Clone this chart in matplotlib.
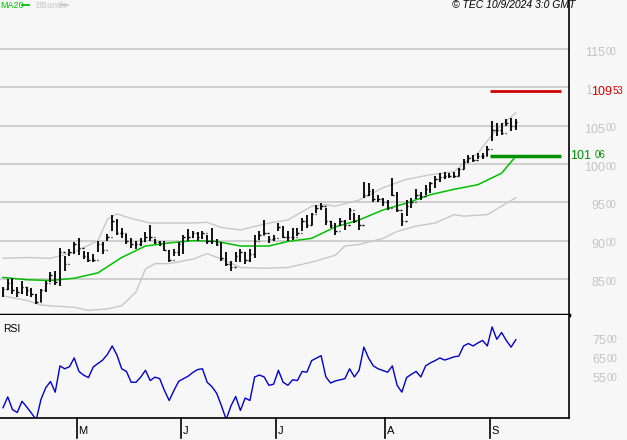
import matplotlib
matplotlib.use("Agg")
import matplotlib.pyplot as plt
from matplotlib import font_manager
from matplotlib.transforms import blended_transform_factory as btf
import numpy as np

# ---------------- data ----------------
months = ["M", "J", "J", "A", "S"]
month_start_idx = [16, 38, 58, 81, 103]

highs = [83.9,85,85.1,83.9,84.7,83.9,83.8,83.0,83.7,84.8,85.9,86.1,89.0,88.0,88.9,89.8,90.3,88.7,88.5,88.3,
         90,89.8,90.9,93.3,92.8,91.7,90.9,90.3,90,90.4,91.1,92,90.2,90,90,88.8,88.9,89.8,90.7,91.5,
         91.3,91.1,91.3,90.7,91.7,90.2,89.8,88.5,87.4,88.5,88.9,88.5,88.9,90.7,91.2,92.7,90.6,90.8,92.3,91.9,
         91.2,91.7,91.7,93,93.4,93.6,94.7,94.9,94.3,92.5,92.3,93,92.7,94.3,93.6,93.4,97.7,97.5,96.7,96,
         95.6,95.3,98.2,96.4,93.6,95.3,95.6,96.7,96.4,97.3,97.7,98.4,98.8,99,98.8,99,99.5,100.6,101.2,101.2,
         101.4,101.4,102.3,105.6,105.3,105.3,105.9,106,105.9]
lows = [82.7,83.5,83.0,82.7,83.0,82.8,82.6,81.8,82.0,83.3,84.6,84.2,84.1,86.1,88.0,88.3,88.1,87.6,87.2,87.2,
        88.5,88.3,89.9,91.3,90.7,90.4,89.6,89.1,88.9,89.3,89.8,90,89.6,89.3,88.6,87.2,88.0,88.0,88.3,90,
        90.4,90,90.2,89.6,89.6,89.3,87.4,86.7,86.1,87.2,87.2,87.0,87.2,87.8,90.1,90.8,89.7,89.9,91.2,90.3,
        89.9,90.1,90.6,91.2,91.7,92.1,93.6,94,92.1,91.7,90.8,91.9,91.4,92.7,92.3,91.4,95.6,95.8,95.1,95.1,
        94.5,94,95.8,93.8,91.9,93.2,94.3,95.4,95.3,96,96.2,96.9,97.7,98,98.2,98.2,98.4,99.3,100.1,100.3,
        100.6,100.6,101,103,103.6,103.8,104.9,104.3,104.5]
closes = [83.7,84.5,83.5,83.3,84.0,83.5,83.0,82.0,83.5,84.5,85.5,84.6,88.5,87,88.5,89.5,89,88,87.5,87.5,
          89.5,88.8,90.5,92.5,91,91,90,89.5,89.5,90,90.5,90.5,89.8,89.5,88.8,87.5,88.5,89.5,90.5,90.5,
          91,90.5,91,90,90,89.5,87.8,87,86.5,88,88.5,87.5,88.3,90,90.8,91,90.2,90.3,91.8,90.5,
          90.5,90.5,91,92.5,92,93.5,94.3,94.5,92.5,92,91.2,92.5,92,94,92.5,92,96,96.5,95.5,95.5,
          95,94.3,96,94,92.5,94.5,95,96,95.8,96.8,97.5,98,98.3,98.5,98.5,98.5,99.3,100.3,100.8,100.5,
          101,101,102,104.5,104.5,104,105.3,105,105.5]
opens = [83.2] + closes[:-1]

ma_idx = [0,5,10,15,20,25,30,35,40,45,50,56,60,65,70,75,80,85,90,95,100,105,108]
ma_val = [85.2,84.9,84.8,85.1,85.8,87.8,89.3,89.7,90,89.9,89.3,89.3,89.9,90.3,91.8,92.7,94,94.9,96,96.7,97.3,98.8,101]
up_idx = [0,5,10,15,20,22,24,27,31,35,40,43,46,50,56,60,65,68,70,75,80,85,90,95,98,100,103,105,108]
up_val = [87.7,87.8,87.7,88.5,90,92.8,93.5,92.9,92.3,92.3,92.3,92.4,91.7,91.4,92.3,92.7,94.5,94.7,94.5,95.3,96.9,98,98.6,99,100.6,101.4,103.8,105.1,106.7]
lo_idx = [0,5,8,10,15,18,22,25,28,30,32,35,40,43,46,50,55,60,65,70,72,75,80,83,87,91,95,97,102,105,108]
lo_val = [82.8,82.2,81.6,81.5,81.3,80.9,81.1,81.5,83.3,86.3,87,87,87.6,88.3,87.6,86.5,86.4,86.5,87.2,88.1,89.3,89.5,90.3,91.2,91.9,92.3,93.4,93.2,93.4,94.5,95.6]

rsi = [39.9,45.6,38.9,37.4,43.3,40.3,37,33.6,44.3,50.4,53.7,48.1,61.9,60.4,61.5,66.1,59,57,55.8,61.3,
       63.2,65,68,72.4,67.6,60.4,59,53.3,53.3,56,59.6,54.2,56,55.2,49,43.7,49,53.8,55.2,56.5,
       58.5,60,60.4,53.3,51,47.5,41,33.7,40.8,45.8,38.5,45,43.7,56.1,57.1,56.1,51.7,52.3,59.6,53.3,
       51.7,54.6,54.2,59,58.6,64.7,66,67.3,56.1,52.9,54,54.6,55.2,60.4,56.1,59.6,71.8,66,61.9,60.4,
       59.5,58.6,61.9,51.7,48.1,55.8,57.5,59,56.1,61.9,63.5,64.7,66.1,65,65.8,66.7,67.1,72.4,73.7,72.4,
       74,75.3,72.4,82.4,75.9,79.5,75.3,71.8,75.7]

price_ticks = [85, 90, 95, 100, 105, 110, 115]
rsi_ticks = [55, 65, 75]
resistance = 109.53
support = 101.06

# ---------------- drawing ----------------
names = {f.name for f in font_manager.fontManager.ttflist}
FONT = "Liberation Sans Narrow" if "Liberation Sans Narrow" in names else "Liberation Sans"
plt.rcParams["font.family"] = FONT

BG = "#f7f7f7"
GRID = "#c8c8c8"
LBL = "#c4c4c4"
fig = plt.figure(figsize=(6.27, 4.4), dpi=100, facecolor=BG)
W, H = 627, 440
ax = fig.add_axes([0, (H-315)/H, 569/W, 315/H], facecolor=BG)
ax2 = fig.add_axes([0, (H-418)/H, 569/W, 103/H], facecolor=BG)

xl = (-0.63, 119.2)
n = len(closes)
x = np.arange(n)
ax.set_xlim(*xl); ax.set_ylim(80.3, 121.4)
for t in price_ticks:
    ax.axhline(t, color=GRID, lw=1.2, zorder=0)
ax.plot(up_idx, up_val, color=GRID, lw=1)
ax.plot(lo_idx, lo_val, color=GRID, lw=1)
ax.plot(ma_idx, ma_val, color="#00c000", lw=1.1)
ax.vlines(x, lows, highs, color="black", lw=1.3)
ax.hlines(opens, x-0.3, x, color="black", lw=1)
ax.hlines(closes, x, x+0.3, color="black", lw=1)
ax.hlines(resistance, 102.5, 117.6, color="#d00000", lw=2)
ax.hlines(support, 102.5, 117.6, color="#009000", lw=2.5)

for s in ["top", "left"]:
    ax.spines[s].set_visible(False)
ax.spines["right"].set_linewidth(1.2)
ax.spines["bottom"].set_linewidth(2.5)
ax.set_xticks([]); ax.set_yticks([])

def label(axis, val, big, small, color, xr, dy_px=0, big_fs=9, small_fs=7):
    """big text right-aligned at pixel xr, small slightly raised text left-aligned there."""
    tr = btf(fig.transFigure, axis.transData)
    axis.annotate(big, xy=(xr / W, val), xycoords=tr, xytext=(0, -dy_px * 0.72),
                  textcoords="offset points", color=color, fontsize=big_fs,
                  ha="right", va="center", annotation_clip=False)
    if small:
        axis.annotate(small, xy=(xr / W, val), xycoords=tr, xytext=(0.3, -dy_px * 0.72 + 1.0),
                      textcoords="offset points", color=color, fontsize=small_fs,
                      ha="left", va="center", annotation_clip=False)

for t in price_ticks:
    if t == 110:
        continue
    label(ax, t, f"{t}", "00", LBL, 605, dy_px=4)
label(ax, 110, "1", "", LBL, 592, dy_px=4)
label(ax, resistance, "109", "53", "#d00000", 612, dy_px=1)
label(ax, support, "101", "", "#009000", 591, dy_px=0)
label(ax, support, "", "06", "#009000", 594, dy_px=0)

fig.text(0/W, 1-5/H, "MA20", color="#00c000", fontsize=6.5, va="center", ha="left")
fig.add_artist(plt.Line2D([22/W, 29/W], [1-5/H, 1-5/H], color="#00c000", lw=1.3))
fig.text(35/W, 1-5/H, "BBands", color="#c8c8c8", fontsize=6.5, va="center", ha="left")
fig.add_artist(plt.Line2D([60/W, 68/W], [1-5/H, 1-5/H], color="#c8c8c8", lw=1.3))
fig.text(575/W, 1-5/H, "© TEC 10/9/2024 3:0 GMT", color="black", fontsize=7.5, style="italic", va="center", ha="right")

# RSI
ax2.set_xlim(*xl); ax2.set_ylim(34.5, 88.7)
ax2.plot(x, rsi, color="#0000cc", lw=1)
ax2.set_xticks([]); ax2.set_yticks([])
for s in ["top", "left"]:
    ax2.spines[s].set_visible(False)
ax2.spines["right"].set_linewidth(1.2)
ax2.spines["bottom"].set_linewidth(1.2)
ax2.text(0.005, 0.86, "RSI", transform=ax2.transAxes, fontsize=7.5, va="center")
for t in rsi_ticks:
    label(ax2, t, f"{t}", "00", LBL, 606)
tr3 = btf(ax2.transData, ax2.transAxes)
for m, i in zip(months, month_start_idx):
    ax2.add_line(plt.Line2D([i - 0.5, i - 0.5], [0, -0.19], transform=tr3, color="black", lw=1.2, clip_on=False))
    ax2.text(i - 0.2, -0.13, m, transform=tr3, fontsize=8, va="center", ha="left", clip_on=False)

fig.savefig("out.png", dpi=100, facecolor=BG)
